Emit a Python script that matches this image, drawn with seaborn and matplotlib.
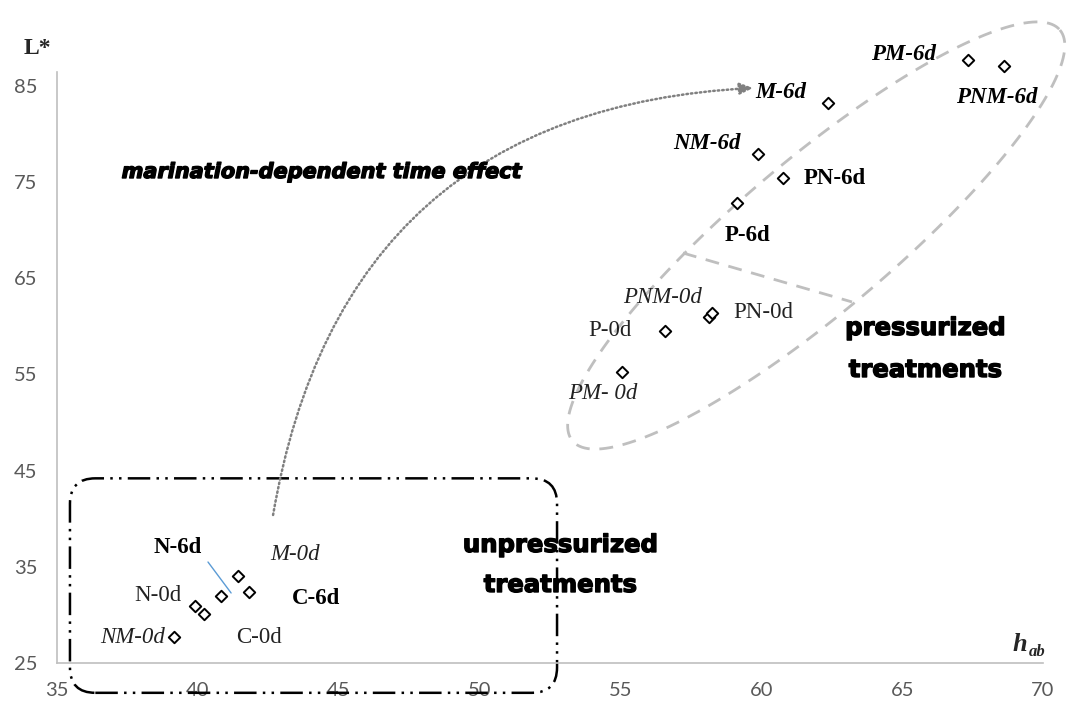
import numpy as np
import pandas as pd
import matplotlib
matplotlib.use('Agg')
import matplotlib.pyplot as plt
import matplotlib.patheffects as pe
import seaborn as sns
from matplotlib.patches import FancyBboxPatch, Polygon

# values (h_ab on x, L* on y)
samples = ['C-0d', 'N-0d', 'NM-0d', 'M-0d', 'C-6d', 'N-6d',
           'P-0d', 'PN-0d', 'PNM-0d', 'PM- 0d',
           'P-6d', 'PN-6d', 'NM-6d', 'M-6d', 'PM-6d', 'PNM-6d']
hab = [40.22, 39.90, 39.14, 41.41, 41.82, 40.81,
       56.58, 58.16, 58.25, 55.07,
       59.13, 60.76, 59.90, 62.38, 67.35, 68.62]
lstar = [30.06, 30.93, 27.67, 34.08, 32.41, 31.97,
         59.55, 60.95, 61.37, 55.23,
         72.80, 75.40, 77.90, 83.20, 87.70, 87.10]

df = pd.DataFrame({'sample': samples, 'hab': hab, 'L': lstar})

# label offsets in pixels (dx, dy) from each marker
label_offsets = {
    'C-0d': (55, -23), 'N-0d': (-37, 10), 'NM-0d': (-41, 0), 'M-0d': (57, 21),
    'C-6d': (67, -7), 'N-6d': (-43, 48),
    'P-0d': (-55, 0), 'PN-0d': (54, 5), 'PNM-0d': (-49, 16), 'PM- 0d': (-20, -21),
    'P-6d': (11, -32), 'PN-6d': (52, 0), 'NM-6d': (-51, 11), 'M-6d': (-48, 11),
    'PM-6d': (-65, 5), 'PNM-6d': (-7, -32),
}

sns.set_style('white')
plt.rcParams['font.family'] = ['Lato', 'DejaVu Sans']

fig = plt.figure(figsize=(10.68, 7.01), dpi=100)
ax = fig.add_axes([57 / 1068, 38 / 701, 986 / 1068, 591 / 701])

sns.scatterplot(data=df, x='hab', y='L', marker='D', s=34, color='white',
                edgecolor='black', linewidth=1.4, ax=ax, zorder=5,
                clip_on=False, legend=False)

ax.set_xlim(35, 70)
ax.set_ylim(25, 86.45)
ax.set_xticks(range(35, 71, 5))
ax.set_yticks(range(25, 86, 10))
ax.set_xlabel('')
ax.set_ylabel('')
ax.tick_params(length=0, labelsize=14.5, labelcolor='#595959', pad=14)
for side in ['top', 'right']:
    ax.spines[side].set_visible(False)
for side in ['left', 'bottom']:
    ax.spines[side].set_color('#BFBFBF')
    ax.spines[side].set_linewidth(1.2)

# data labels: italic when marinated (M), bold after 6 days
for _, row in df.iterrows():
    name = row['sample']
    ax.annotate(name, (row['hab'], row['L']), xytext=label_offsets[name],
                textcoords='offset pixels', ha='center', va='center',
                fontfamily='Liberation Serif', fontsize=16.5,
                fontweight='bold' if '6d' in name else 'normal',
                fontstyle='italic' if 'M' in name else 'normal',
                color='black' if '6d' in name else '#222222', zorder=6,
                annotation_clip=False)

# blue leader line for N-6d
ax.annotate('', xy=(41.18, 32.28), xytext=(40.36, 35.50),
            arrowprops=dict(arrowstyle='-', color='#5B9BD5', lw=1,
                            shrinkA=0, shrinkB=0))

# axis titles
ax.text(-0.02, 1.04, 'L*', transform=ax.transAxes, ha='center', va='center',
        fontfamily='Liberation Serif', fontsize=17, fontweight='bold')
ax.text(0.9767, 0.0203, 'h', transform=ax.transAxes, ha='center', va='baseline',
        fontfamily='Liberation Serif', fontsize=19, fontweight='bold',
        fontstyle='italic')
ax.text(0.9939, 0.0118, 'ab', transform=ax.transAxes, ha='center',
        va='baseline', fontfamily='Liberation Serif', fontsize=12,
        fontweight='bold', fontstyle='italic')

# dashed ellipse around pressurized treatments
t = np.linspace(0, 2 * np.pi, 200)
cx, cy = 61.95, 69.45
major = np.array([8.65, 21.37])
minor = np.array([1.743, -6.05])
ell = np.column_stack([cx + np.cos(t) * major[0] + np.sin(t) * minor[0],
                       cy + np.cos(t) * major[1] + np.sin(t) * minor[1]])
ax.add_patch(Polygon(ell, closed=True, fill=False, edgecolor='#BFBFBF',
                     lw=2, linestyle=(0, (5, 3.5)), clip_on=False, zorder=2))
# dashed chord splitting 0d and 6d
ax.plot([57.22, 63.22], [67.63, 62.54], color='#BFBFBF', lw=2,
        linestyle=(0, (5, 3.5)), zorder=2)

# dash-dot-dot rounded box around unpressurized treatments
box = FancyBboxPatch((35.46, 21.9), 52.75 - 35.46, 44.2 - 21.9,
                     boxstyle='round,pad=0,rounding_size=0.9',
                     mutation_aspect=28.17 / 9.617, fill=False,
                     edgecolor='black', lw=1.8,
                     linestyle=(0, (9, 2.5, 1, 2.5, 1, 2.5)),
                     clip_on=False, zorder=2)
ax.add_patch(box)

# curved dotted arrow: marination-dependent time effect
ax.annotate('', xy=(59.71, 84.79), xytext=(42.67, 40.39),
            arrowprops=dict(arrowstyle='-|>,head_length=0.8,head_width=0.35',
                            connectionstyle='arc3,rad=-0.4', color='#808080',
                            lw=1.8, linestyle=(0, (0.6, 1.2)),
                            shrinkA=0, shrinkB=0))

# heavy annotation texts
heavy = dict(fontfamily='DejaVu Sans', fontweight='bold', color='black',
             path_effects=[pe.withStroke(linewidth=1.0, foreground='black')],
             transform=ax.transAxes, ha='center', va='center')
ax.text(0.2688, 0.8308, 'marination-dependent time effect', fontsize=15,
        fontstyle='italic', **heavy)
ax.text(0.8803, 0.5668, 'pressurized', fontsize=17.5, **heavy)
ax.text(0.8803, 0.4958, 'treatments', fontsize=17.5, **heavy)
ax.text(0.5101, 0.1997, 'unpressurized', fontsize=17.5, **heavy)
ax.text(0.5101, 0.1320, 'treatments', fontsize=17.5, **heavy)

fig.savefig('out.png', dpi=100)
